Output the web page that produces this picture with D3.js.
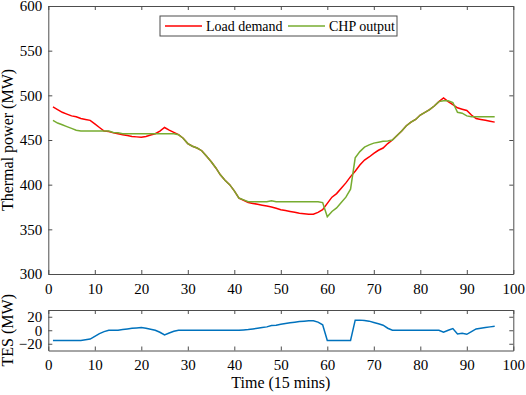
<!DOCTYPE html>
<html>
<head>
<meta charset="utf-8">
<script src="https://cdn.jsdelivr.net/npm/d3@7"></script>
<style>
body { margin: 0; background: #fff; }
text { font-family: "Liberation Serif", "Times New Roman", serif; fill: #000; }
</style>
</head>
<body>
<div id="chart"></div>
<script>
// time steps 1..96 (15 min each)
var loadDemand = [487, 484, 481, 479, 477, 476, 474, 473, 472, 468,
  464, 460, 459.5, 458, 457, 456, 455, 454, 453.5, 453,
  454, 455.5, 457, 460, 464, 461, 458.5, 456, 452, 446,
  443, 441, 438, 432, 426, 419, 411, 405, 400, 393,
  385, 382.5, 380, 379, 378, 377, 376, 375, 373.5, 372,
  371, 370, 369, 368, 367.5, 367, 367, 369, 372, 379,
  386, 390, 396, 402, 409, 415, 422, 427.5, 431, 435,
  438.5, 441, 446, 450, 455, 460, 466, 470, 473, 478,
  481, 484, 488, 493, 497, 493, 489.5, 486, 484.5, 483,
  478, 474, 473, 472, 471, 470];

var chpOutput = [472, 469, 467, 465, 463, 461, 460, 460, 460, 460,
  460, 460, 460, 458.5, 458, 457, 457, 457, 457, 457,
  457, 457, 457, 457, 457, 457, 457, 456, 452, 446,
  443, 441, 438, 432, 426, 419, 411, 405, 400, 393,
  385, 383, 381, 381, 381, 381, 381, 382, 381, 381,
  381, 381, 381, 381, 381, 381, 381, 381, 380, 364,
  370, 374, 380, 386, 395, 430, 437, 442, 444.5, 446.5,
  447.5, 448.5, 449, 450, 455, 460, 466, 470, 473, 478,
  481, 484, 488, 493, 494, 494, 492, 481, 480, 477,
  476, 476, 476, 476, 476, 476];

var tes = [-15, -15, -15, -15, -15, -15, -15, -14, -13, -9,
  -5, -2, 0, 0, 0, 1, 2, 3, 3.5, 4,
  3, 1.5, 0, -3, -7, -4, -1.5, 0, 0, 0,
  0, 0, 0, 0, 0, 0, 0, 0, 0, 0,
  0, 0.5, 1, 2, 3, 4, 5, 7, 7.5, 9,
  10, 11, 12, 13, 13.5, 14, 14, 12, 8, -15,
  -15, -15, -15, -15, -15, 15, 15, 14.5, 13.5, 11.5,
  9.5, 7.5, 3, 0, 0, 0, 0, 0, 0, 0,
  0, 0, 0, 0, -3, 0, 2.5, -5.5, -4.5, -6,
  -2, 2, 3, 4, 5, 6];

var xTicks = [0, 10, 20, 30, 40, 50, 60, 70, 80, 90, 100];
var powerTicks = [300, 350, 400, 450, 500, 550, 600];
var tesTicks = [-20, 0, 20];
var seriesNames = ['Load demand', 'CHP output'];
var seriesColors = ['#ff0000', '#77ac30'];

var width = 526, height = 395;
var axisColor = '#4d4d4d';

var svg = d3.select('#chart').append('svg')
    .attr('width', width)
    .attr('height', height);

var x = d3.scaleLinear().domain([0, 100]).range([48.3, 513.3]);
var y1 = d3.scaleLinear().domain([300, 600]).range([274, 6]);
var y2 = d3.scaleLinear().domain([-30, 30]).range([350.5, 310]);

// draws a matlab style box with inward ticks on all four sides
function drawBox(yScale, yTicks) {
  var g = svg.append('g');
  var top = yScale.range()[1], bottom = yScale.range()[0];
  var left = x.range()[0], right = x.range()[1];

  g.append('g').attr('transform', 'translate(0,' + bottom + ')')
    .call(d3.axisBottom(x).tickValues(xTicks).tickSizeInner(-4).tickSizeOuter(0).tickPadding(9));
  g.append('g').attr('transform', 'translate(0,' + top + ')')
    .call(d3.axisTop(x).tickValues(xTicks).tickSizeInner(-4).tickSizeOuter(0).tickFormat(''));
  g.append('g').attr('transform', 'translate(' + left + ',0)')
    .call(d3.axisLeft(yScale).tickValues(yTicks).tickSizeInner(-4).tickSizeOuter(0).tickPadding(6));
  g.append('g').attr('transform', 'translate(' + right + ',0)')
    .call(d3.axisRight(yScale).tickValues(yTicks).tickSizeInner(-4).tickSizeOuter(0).tickFormat(''));

  g.selectAll('.domain, .tick line').attr('stroke', axisColor);
  g.selectAll('.tick text')
    .style('font-family', '"Liberation Serif", "Times New Roman", serif')
    .style('font-size', '15px')
    .attr('fill', '#000');
  return g;
}

drawBox(y1, powerTicks);
drawBox(y2, tesTicks);

var line1 = d3.line()
    .x(function(d, i) { return x(i + 1); })
    .y(function(d) { return y1(d); });

svg.append('path')
    .attr('d', line1(loadDemand))
    .attr('fill', 'none')
    .attr('stroke', seriesColors[0])
    .attr('stroke-width', 1.5);

svg.append('path')
    .attr('d', line1(chpOutput))
    .attr('fill', 'none')
    .attr('stroke', seriesColors[1])
    .attr('stroke-width', 1.5);

var line2 = d3.line()
    .x(function(d, i) { return x(i + 1); })
    .y(function(d) { return y2(d); });

svg.append('path')
    .attr('d', line2(tes))
    .attr('fill', 'none')
    .attr('stroke', '#0072bd')
    .attr('stroke-width', 1.5);

// axis titles
svg.append('text')
    .attr('transform', 'translate(13,' + y1(450) + ') rotate(-90)')
    .attr('text-anchor', 'middle')
    .style('font-size', '16px')
    .text('Thermal power (MW)');

svg.append('text')
    .attr('transform', 'translate(13,' + y2(0) + ') rotate(-90)')
    .attr('text-anchor', 'middle')
    .style('font-size', '16px')
    .text('TES (MW)');

svg.append('text')
    .attr('x', x(50))
    .attr('y', 388)
    .attr('text-anchor', 'middle')
    .style('font-size', '16px')
    .text('Time (15 mins)');

// legend
var legend = svg.append('g').attr('transform', 'translate(160,16)');
legend.append('rect')
    .attr('width', 237)
    .attr('height', 20)
    .attr('fill', '#fff')
    .attr('stroke', axisColor);

var legendX = [5, 128];
seriesNames.forEach(function(name, i) {
  legend.append('line')
    .attr('x1', legendX[i]).attr('x2', legendX[i] + 37)
    .attr('y1', 10).attr('y2', 10)
    .attr('stroke', seriesColors[i])
    .attr('stroke-width', 1.5);
  legend.append('text')
    .attr('x', legendX[i] + 41)
    .attr('y', 10)
    .attr('dy', '0.34em')
    .style('font-size', '14px')
    .text(name);
});
</script>
</body>
</html>
